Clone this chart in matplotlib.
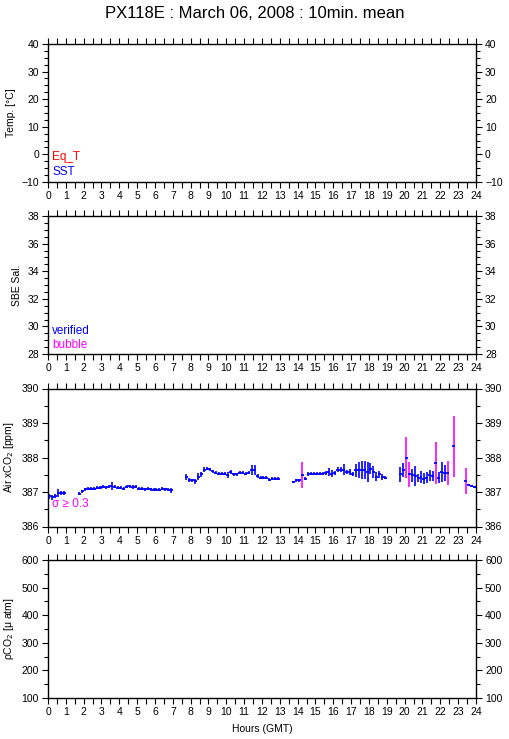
import numpy as np
import matplotlib
matplotlib.use('Agg')
import matplotlib.pyplot as plt
from matplotlib.ticker import MultipleLocator

plt.rcParams['font.family'] = ['Liberation Sans', 'DejaVu Sans']

title = 'PX118E : March 06, 2008 : 10min. mean'
hour_ticks = list(range(0, 25))

# air xCO2 10-min means (ppm), one list per continuous block; start = first bin (hours)
seg_start = [0.0, 10 / 6, 46 / 6, 82 / 6, 118 / 6]
xco2_1 = [386.87, 386.85, 386.89, 386.98, 386.96, 386.96]
sd_1 = [0.08, 0.07, 0.05, 0.12, 0.06, 0.06]
xco2_2 = [386.95, 387.02, 387.08, 387.10, 387.10, 387.10, 387.12, 387.13, 387.15, 387.14,
          387.15, 387.18, 387.15, 387.12, 387.12, 387.10, 387.15, 387.16, 387.15, 387.15,
          387.10, 387.10, 387.08, 387.10, 387.08, 387.07, 387.07, 387.07, 387.10, 387.08,
          387.07, 387.05]
sd_2 = [0.04, 0.05, 0.04, 0.05, 0.04, 0.04, 0.04, 0.05, 0.04, 0.04,
        0.04, 0.11, 0.04, 0.04, 0.04, 0.05, 0.04, 0.04, 0.05, 0.04,
        0.04, 0.04, 0.04, 0.05, 0.04, 0.04, 0.04, 0.04, 0.05, 0.04,
        0.04, 0.08]
xco2_3 = [387.44, 387.36, 387.34, 387.31, 387.44, 387.51, 387.65, 387.68, 387.66, 387.60,
          387.56, 387.53, 387.53, 387.53, 387.49, 387.58, 387.51, 387.51, 387.56, 387.56,
          387.53, 387.56, 387.63, 387.63, 387.46, 387.42, 387.42, 387.42, 387.36, 387.39,
          387.39, 387.39]
sd_3 = [0.08, 0.06, 0.05, 0.07, 0.10, 0.08, 0.07, 0.05, 0.05, 0.05,
        0.05, 0.05, 0.05, 0.05, 0.08, 0.07, 0.05, 0.05, 0.05, 0.05,
        0.05, 0.05, 0.14, 0.14, 0.05, 0.04, 0.04, 0.04, 0.04, 0.04,
        0.04, 0.04]
xco2_4 = [387.29, 387.34, 387.34, 387.49, 387.39, 387.53, 387.53, 387.53, 387.53, 387.53,
          387.53, 387.55, 387.58, 387.53, 387.56, 387.65, 387.65, 387.65, 387.58, 387.58,
          387.53, 387.63, 387.63, 387.63, 387.63, 387.58, 387.68, 387.58, 387.44, 387.52,
          387.44, 387.42]
sd_4 = [0.04, 0.05, 0.04, 0.38, 0.05, 0.06, 0.05, 0.05, 0.05, 0.05,
        0.05, 0.06, 0.11, 0.10, 0.06, 0.07, 0.08, 0.15, 0.06, 0.10,
        0.06, 0.19, 0.23, 0.26, 0.26, 0.28, 0.15, 0.17, 0.13, 0.10,
        0.08, 0.04]
xco2_5 = [387.51, 387.63, 388.00, 387.51, 387.49, 387.47, 387.41, 387.44, 387.39, 387.42,
          387.49, 387.46, 387.84, 387.42, 387.57, 387.55, 387.55, np.nan, 388.32, np.nan,
          np.nan, np.nan, 387.33, 387.19, 387.17, 387.15]
sd_5 = [0.22, 0.20, 0.58, 0.36, 0.19, 0.29, 0.12, 0.17, 0.15, 0.15,
        0.16, 0.15, 0.62, 0.17, 0.29, 0.22, 0.35, np.nan, 0.88, np.nan,
        np.nan, np.nan, 0.38, 0.03, 0.03, 0.03]

blue = '#0000ff'
magenta = '#ff00ff'
red = '#ff0000'

W, H = 509, 739
fig = plt.figure(figsize=(W / 100, H / 100), dpi=100)

panel_top = [44, 216, 388.5, 560]
panel_h = 138
ylims = [(-10, 40), (28, 38), (386, 390), (100, 600)]
ymajor = [10, 2, 1, 100]
yminor = [2.5, 0.5, 0.5, 50]
ylabels = ['Temp. [°C]', 'SBE Sal.', 'Air xCO$_2$ [ppm]', 'ρCO$_2$ [μ atm]']

axes = []
for i in range(4):
    ax = fig.add_axes([48 / W, 1 - (panel_top[i] + panel_h) / H, 428 / W, panel_h / H])
    ax.set_xlim(0, 24)
    ax.set_ylim(*ylims[i])
    ax.set_xticks(hour_ticks)
    ax.xaxis.set_minor_locator(MultipleLocator(0.5))
    ax.yaxis.set_major_locator(MultipleLocator(ymajor[i]))
    ax.yaxis.set_minor_locator(MultipleLocator(yminor[i]))
    ax.tick_params(which='both', direction='out', top=True, right=True,
                   labelright=True, width=0.8, labelsize=7.5, pad=2)
    ax.tick_params(which='major', length=4.5)
    ax.tick_params(which='minor', length=3)
    ax.tick_params(axis='x', which='minor', length=4.5)
    for s in ax.spines.values():
        s.set_linewidth(1)
    ax.set_ylabel(ylabels[i], fontsize=7.5, labelpad=4)
    axes.append(ax)

# legends written as coloured text
axes[0].text(0.01, 0.18, 'Eq_T', color=red, fontsize=8.5, transform=axes[0].transAxes, va='center')
axes[0].text(0.01, 0.072, 'SST', color=blue, fontsize=8.5, transform=axes[0].transAxes, va='center')
axes[1].text(0.01, 0.167, 'verified', color=blue, fontsize=8.5, transform=axes[1].transAxes, va='center')
axes[1].text(0.01, 0.065, 'bubble', color=magenta, fontsize=8.5, transform=axes[1].transAxes, va='center')
axes[2].text(0.01, 0.163, 'σ ≥ 0.3', color=magenta, fontsize=8.5, transform=axes[2].transAxes, va='center')

# air xCO2 panel
ax = axes[2]
for st, v, e in zip(seg_start, [xco2_1, xco2_2, xco2_3, xco2_4, xco2_5],
                    [sd_1, sd_2, sd_3, sd_4, sd_5]):
    v = np.array(v)
    e = np.array(e)
    t = st + (np.arange(len(v)) + 0.5) / 6
    cols = [magenta if x >= 0.3 else blue for x in np.nan_to_num(e)]
    ax.vlines(t, v - e, v + e, colors=cols, lw=1.2)
    ax.hlines(v, t - 1 / 12, t + 1 / 12, colors=blue, lw=1.3)

fig.text(0.5, 1 - 13 / H, title, ha='center', va='center', fontsize=12)
fig.text(262 / W, 1 - 729 / H, 'Hours (GMT)', ha='center', va='center', fontsize=7.5)

fig.savefig('out.png', dpi=100)
